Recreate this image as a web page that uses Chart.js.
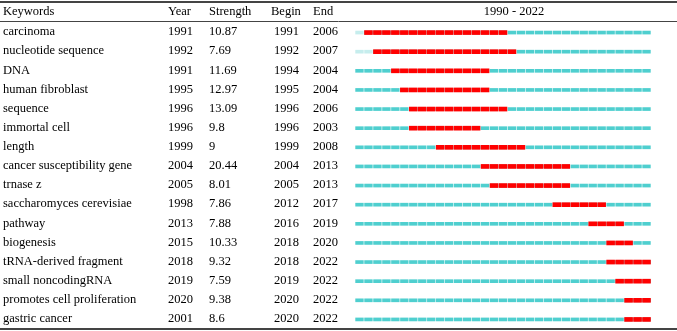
<!DOCTYPE html>
<html>
<head>
<meta charset="utf-8">
<script src="https://cdn.jsdelivr.net/npm/chart.js@4/dist/chart.umd.min.js"></script>
<style>
  html, body { margin: 0; padding: 0; background: #fff; }
</style>
</head>
<body>
<canvas id="burst" width="677" height="331"></canvas>
<script>
// keyword burst data
const keywords = [
  "carcinoma", "nucleotide sequence", "DNA", "human fibroblast", "sequence",
  "immortal cell", "length", "cancer susceptibility gene", "trnase z",
  "saccharomyces cerevisiae", "pathway", "biogenesis", "tRNA-derived fragment",
  "small noncodingRNA", "promotes cell proliferation", "gastric cancer"
];
const firstYear = [1991, 1992, 1991, 1995, 1996, 1996, 1999, 2004, 2005, 1998, 2013, 2015, 2018, 2019, 2020, 2001];
const strength = ["10.87", "7.69", "11.69", "12.97", "13.09", "9.8", "9", "20.44", "8.01", "7.86", "7.88", "10.33", "9.32", "7.59", "9.38", "8.6"];
const beginYear = [1991, 1992, 1994, 1995, 1996, 1996, 1999, 2004, 2005, 2012, 2016, 2018, 2018, 2019, 2020, 2020];
const endYear = [2006, 2007, 2004, 2004, 2006, 2003, 2008, 2013, 2013, 2017, 2019, 2020, 2022, 2022, 2022, 2022];
// years drawn pale (before the keyword showed up), only the first two rows show it
const paleBefore = [1991, 1992, null, null, null, null, null, null, null, null, null, null, null, null, null, null];

const startYear = 1990;
const lastYear = 2022;
const years = [];
for (let y = startYear; y <= lastYear; y++) years.push(y);

const CYAN = "#4fcfcf";
const PALE = "#c6eded";
const RED = "#ff0000";

// one dataset per year for the timeline, one per year for the bursts
const datasets = [];
years.forEach((yr) => {
  datasets.push({
    data: keywords.map(() => [yr + 0.07, yr + 0.93]),
    backgroundColor: keywords.map((k, i) =>
      paleBefore[i] !== null && yr < paleBefore[i] ? PALE : CYAN),
    barThickness: 3,
    grouped: false,
    order: 2,
  });
});
years.forEach((yr) => {
  datasets.push({
    data: keywords.map((k, i) =>
      yr >= beginYear[i] && yr <= endYear[i] ? [yr + 0.06, yr + 0.94] : null),
    backgroundColor: RED,
    barThickness: 4,
    grouped: false,
    order: 1,
  });
});

const FONT = "12.5px 'Liberation Serif', 'Times New Roman', serif";

const tablePlugin = {
  id: "tableText",
  afterDraw(chart) {
    const ctx = chart.ctx;
    const yScale = chart.scales.y;
    const W = chart.width;
    ctx.save();
    // rules
    ctx.strokeStyle = "#444";
    ctx.lineWidth = 2;
    ctx.beginPath(); ctx.moveTo(0, 2); ctx.lineTo(W, 2); ctx.stroke();
    ctx.lineWidth = 1;
    ctx.beginPath(); ctx.moveTo(0, 21.5); ctx.lineTo(W, 21.5); ctx.stroke();
    ctx.lineWidth = 2;
    ctx.beginPath(); ctx.moveTo(0, 329); ctx.lineTo(W, 329); ctx.stroke();

    ctx.fillStyle = "#000";
    ctx.font = FONT;
    ctx.textBaseline = "middle";
    ctx.textAlign = "left";
    ctx.fillText("Keywords", 3, 12);
    ctx.fillText("Year", 168, 12);
    ctx.fillText("Strength", 209, 12);
    ctx.fillText("Begin", 271, 12);
    ctx.fillText("End", 313, 12);
    ctx.textAlign = "center";
    ctx.fillText(startYear + " - " + lastYear, 514, 12);

    ctx.textAlign = "left";
    keywords.forEach((k, i) => {
      const y = yScale.getPixelForValue(i) - 0.5;
      ctx.fillText(k, 3, y);
      ctx.fillText(String(firstYear[i]), 168, y);
      ctx.fillText(strength[i], 209, y);
      ctx.fillText(String(beginYear[i]), 274, y);
      ctx.fillText(String(endYear[i]), 313, y);
    });
    ctx.restore();
  },
};

new Chart(document.getElementById("burst"), {
  type: "bar",
  data: { labels: keywords, datasets: datasets },
  options: {
    indexAxis: "y",
    responsive: false,
    animation: false,
    devicePixelRatio: 1,
    layout: { padding: { left: 355, right: 26, top: 23, bottom: 2 } },
    plugins: { legend: { display: false }, tooltip: { enabled: false } },
    scales: {
      x: { type: "linear", min: startYear, max: lastYear + 1, display: false },
      y: { type: "category", display: false, offset: true },
    },
  },
  plugins: [tablePlugin],
});
</script>
</body>
</html>
